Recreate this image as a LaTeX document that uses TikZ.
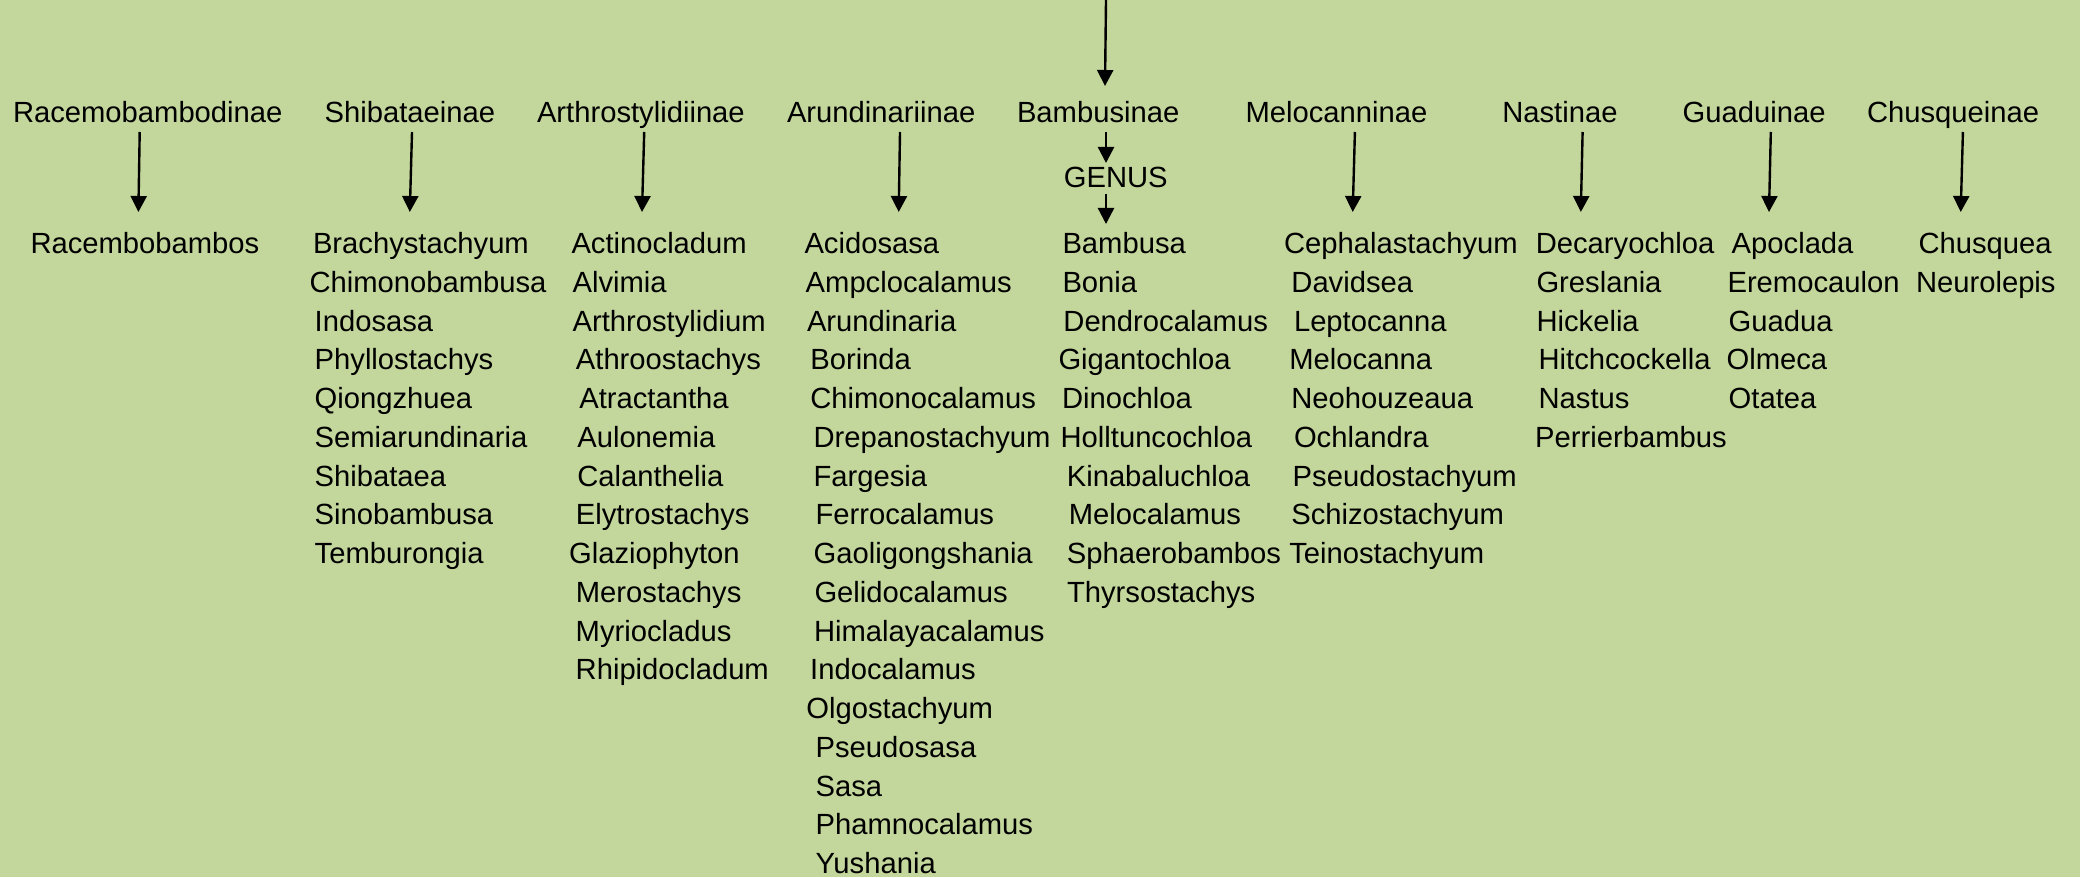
\documentclass[tikz,border=0pt]{standalone}
\usepackage{fontspec}
\setmainfont{Liberation Sans}
\usetikzlibrary{arrows.meta}
\definecolor{bgolive}{RGB}{195,214,155}
\tikzset{
  lbl/.style={anchor=base west, inner sep=0pt, outer sep=0pt, text=black, font=\fontsize{14.6}{17}\selectfont},
  arr/.style={draw=black, line width=1.2pt, -{Triangle[length=8pt,width=8pt]}}
}
\begin{document}
\begin{tikzpicture}[x=0.5pt,y=-0.5pt]
\fill[bgolive] (0,0) rectangle (2080,877);
\useasboundingbox (0,0) rectangle (2080,877);
% headers
\node[lbl] (h1) at (13,122.8) {Racemobambodinae};
\node[lbl] (h2) at (324.6,122.8) {Shibataeinae};
\node[lbl] (h3) at (537,122.8) {Arthrostylidiinae};
\node[lbl] (h4) at (787,122.8) {Arundinariinae};
\node[lbl] (h5) at (1017,122.8) {Bambusinae};
\node[lbl] (h6) at (1245.5,122.8) {Melocanninae};
\node[lbl] (h7) at (1502.3,122.8) {Nastinae};
\node[lbl] (h8) at (1682.7,122.8) {Guaduinae};
\node[lbl] (h9) at (1867,122.8) {Chusqueinae};
\node[lbl] (genus) at (1063.8,187.8) {GENUS};
% genera
\node[lbl] (c1-0) at (30.5,253.7) {Racembobambos};
\foreach \x/\t [count=\i from 0] in {313/Brachystachyum,309.5/Chimonobambusa,314.7/Indosasa,314.7/Phyllostachys,314.7/Qiongzhuea,314.7/Semiarundinaria,314.7/Shibataea,314.7/Sinobambusa,314.7/Temburongia}
  \node[lbl] (c2-\i) at ({\x},{253.7+38.75*\i}) {\t};
\foreach \x/\t [count=\i from 0] in {571.5/Actinocladum,572.6/Alvimia,572.6/Arthrostylidium,575.9/Athroostachys,579.3/Atractantha,577.3/Aulonemia,577.3/Calanthelia,575.9/Elytrostachys,569.2/Glaziophyton,575.9/Merostachys,575.7/Myriocladus,575.7/Rhipidocladum}
  \node[lbl] (c3-\i) at ({\x},{253.7+38.75*\i}) {\t};
\foreach \x/\t [count=\i from 0] in {804.5/Acidosasa,805.7/Ampclocalamus,807/Arundinaria,810.3/Borinda,810.3/Chimonocalamus,813.6/Drepanostachyum,813.6/Fargesia,815.6/Ferrocalamus,813.6/Gaoligongshania,814.5/Gelidocalamus,814/Himalayacalamus,810.2/Indocalamus,806.4/Olgostachyum,815.6/Pseudosasa,815.6/Sasa,815.6/Phamnocalamus,815.6/Yushania}
  \node[lbl] (c4-\i) at ({\x},{253.7+38.75*\i}) {\t};
\foreach \x/\t [count=\i from 0] in {1062.5/Bambusa,1062.5/Bonia,1063.4/Dendrocalamus,1058.5/Gigantochloa,1062/Dinochloa,1060.6/Holltuncochloa,1066.8/Kinabaluchloa,1068.9/Melocalamus,1066.8/Sphaerobambos,1067/Thyrsostachys}
  \node[lbl] (c5-\i) at ({\x},{253.7+38.75*\i}) {\t};
\foreach \x/\t [count=\i from 0] in {1284/Cephalastachyum,1291.4/Davidsea,1294/Leptocanna,1289.3/Melocanna,1291.3/Neohouzeaua,1294/Ochlandra,1292.7/Pseudostachyum,1291.3/Schizostachyum,1289.3/Teinostachyum}
  \node[lbl] (c6-\i) at ({\x},{253.7+38.75*\i}) {\t};
\foreach \x/\t [count=\i from 0] in {1535.8/Decaryochloa,1536.5/Greslania,1536.5/Hickelia,1538.6/Hitchcockella,1538.6/Nastus,1535.2/Perrierbambus}
  \node[lbl] (c7-\i) at ({\x},{253.7+38.75*\i}) {\t};
\foreach \x/\t [count=\i from 0] in {1731.7/Apoclada,1727.5/Eremocaulon,1728.7/Guadua,1726.6/Olmeca,1728.7/Otatea}
  \node[lbl] (c8-\i) at ({\x},{253.7+38.75*\i}) {\t};
\foreach \x/\t [count=\i from 0] in {1918.5/Chusquea,1916/Neurolepis}
  \node[lbl] (c9-\i) at ({\x},{253.7+38.75*\i}) {\t};
% arrow end points
\coordinate (top) at (1106,0);
\coordinate (t5) at (1105,86);
\foreach \n/\xa/\xb in {1/139.7/138.4,2/412/409.8,3/644.2/642,4/900/898.7,6/1354.9/1352.7,7/1582.6/1580.8,8/1770.8/1769,9/1962.9/1960.7}{
  \coordinate (s\n) at (\xa,132);
  \coordinate (e\n) at (\xb,212);
}
\coordinate (s5) at (1106,132);
\coordinate (m5) at (1106,163);
\coordinate (n5) at (1106,194);
\coordinate (e5) at (1106,224);
% connectors
\draw[arr] (top) -- (t5);
\foreach \n in {1,2,3,4,6,7,8,9} \draw[arr] (s\n) -- (e\n);
\draw[arr] (s5) -- (m5);
\draw[arr] (n5) -- (e5);
\end{tikzpicture}
\end{document}
